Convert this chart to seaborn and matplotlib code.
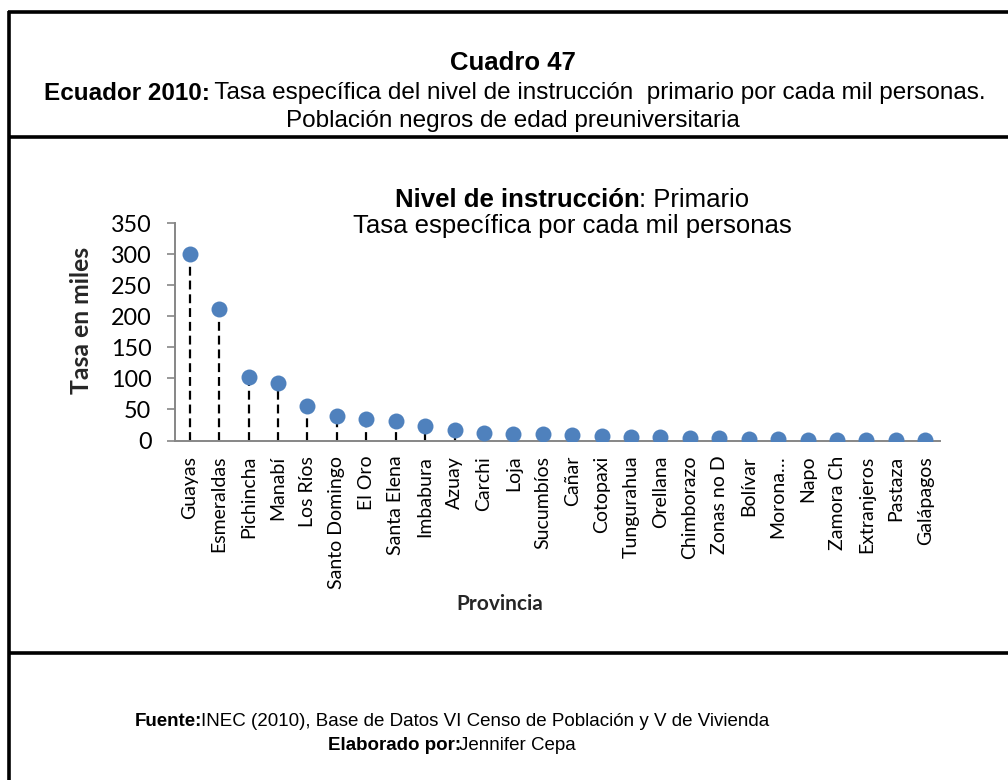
import matplotlib
matplotlib.use("Agg")
import matplotlib.pyplot as plt
import seaborn as sns
import pandas as pd

# Provinces ordered by rate (per thousand persons)
provincias = ["Guayas", "Esmeraldas", "Pichincha", "Manabí", "Los Ríos",
              "Santo Domingo", "El Oro", "Santa Elena", "Imbabura", "Azuay",
              "Carchi", "Loja", "Sucumbíos", "Cañar", "Cotopaxi", "Tungurahua",
              "Orellana", "Chimborazo", "Zonas no D", "Bolívar", "Morona…",
              "Napo", "Zamora Ch", "Extranjeros", "Pastaza", "Galápagos"]
tasas = [300, 212, 102, 93, 55, 39, 35, 32, 24, 17,
         12.5, 10, 10, 8.4, 7.8, 6.1, 5.6, 3.5, 3.5, 2.4,
         1.9, 0.8, 0.8, 0.4, 0.2, 0.2]
y_ticks = [0, 50, 100, 150, 200, 250, 300, 350]

df = pd.DataFrame({"Provincia": provincias, "Tasa": tasas})

sns.set_theme(style="white")
plt.rcParams["font.family"] = ["Liberation Sans", "DejaVu Sans"]

W, H = 1008, 780
fig = plt.figure(figsize=(W / 100, H / 100), dpi=100)


def fx(px):
    return px / W


def fy(py):
    return 1 - py / H


# Outer table frame
frame_kw = dict(color="black", lw=2.6, solid_capstyle="butt", transform=fig.transFigure)
fig.add_artist(plt.Line2D([fx(9), fx(9)], [fy(10.5), fy(780)], **frame_kw))
fig.add_artist(plt.Line2D([fx(7.5), fx(1008)], [fy(12), fy(12)], **frame_kw))
fig.add_artist(plt.Line2D([fx(7.5), fx(1008)], [fy(137), fy(137)], **frame_kw))
fig.add_artist(plt.Line2D([fx(7.5), fx(1008)], [fy(653), fy(653)], **frame_kw))

renderer = fig.canvas.get_renderer()


def mixed_line(segments, cx, cy, size, family="Liberation Sans", gap=-2):
    """Draw a centred line made of (text, weight) segments."""
    texts = []
    for s, w in segments:
        t = fig.text(0, fy(cy), s, fontsize=size, fontweight=w, family=family,
                     va="center", ha="left", color="black")
        texts.append(t)
    widths = [t.get_window_extent(renderer).width for t in texts]
    total = sum(widths) + gap * (len(widths) - 1)
    x = cx - total / 2
    for t, w in zip(texts, widths):
        t.set_x(fx(x))
        x += w + gap


# Header
mixed_line([("Cuadro 47", "bold")], 513, 63, 18.5)
mixed_line([("Ecuador 2010:", "bold"),
            (" Tasa específica del nivel de instrucción  primario por cada mil personas.", "normal")],
           515, 93, 17.5)
mixed_line([("Población negros de edad preuniversitaria", "normal")], 513, 121, 17.5)

# Footer
mixed_line([("Fuente:", "bold"),
            ("INEC (2010), Base de Datos VI Censo de Población y V de Vivienda", "normal")],
           452, 721, 13.5)
mixed_line([("Elaborado por:", "bold"), ("Jennifer Cepa", "normal")], 452, 745, 13.5)

# Chart title
mixed_line([("Nivel de instrucción", "bold"), (": Primario", "normal")], 572, 200, 18.5, gap=0)
mixed_line([("Tasa específica por cada mil personas", "normal")], 572, 226, 18.5)

# Plot area
x0, x1, y0, y1 = 175, 940, 440.5, 223.3
ax = fig.add_axes([fx(x0), fy(y0), fx(x1) - fx(x0), fy(y1) - fy(y0)])
ax.set_facecolor("none")

blue = "#4F81BD"
# Drop lines from each point to the category axis
ax.vlines(range(len(provincias)), 0, df["Tasa"], colors="black",
          linestyles=(0, (4, 2.2)), lw=1.6, zorder=2)
sns.stripplot(data=df, x="Provincia", y="Tasa", order=provincias, jitter=False,
              color=blue, size=11.5, linewidth=0, ax=ax, zorder=3)

ax.set_xlim(-0.5, len(provincias) - 0.5)
ax.set_ylim(0, 350)
ax.set_yticks(y_ticks)
ax.set_yticklabels([str(v) for v in y_ticks], family="Lato", fontsize=16.8)
ax.set_xticks(range(len(provincias)))
ax.set_xticklabels(provincias, rotation=90, family="Lato", fontsize=14, va="top", ha="center")

axis_gray = "#868686"
for side in ["top", "right"]:
    ax.spines[side].set_visible(False)
for side in ["left", "bottom"]:
    ax.spines[side].set_color(axis_gray)
    ax.spines[side].set_linewidth(1.4)
ax.tick_params(axis="y", which="major", left=True, length=6, width=1.2, color=axis_gray,
               pad=11, labelcolor="black")
ax.tick_params(axis="x", which="major", bottom=False, pad=5, labelcolor="black")

ax.set_xlabel("Provincia", family="Lato", fontweight="bold", fontsize=15)
ax.set_ylabel("Tasa en miles", family="Lato", fontweight="bold", fontsize=17.8)
pw, ph = x1 - x0, y0 - y1
ax.yaxis.set_label_coords((93 - x0) / pw, (y0 - 320) / ph)
ax.xaxis.set_label_coords((500 - x0) / pw, (y0 - 594) / ph)

fig.savefig("out.png", dpi=100, facecolor="white")
